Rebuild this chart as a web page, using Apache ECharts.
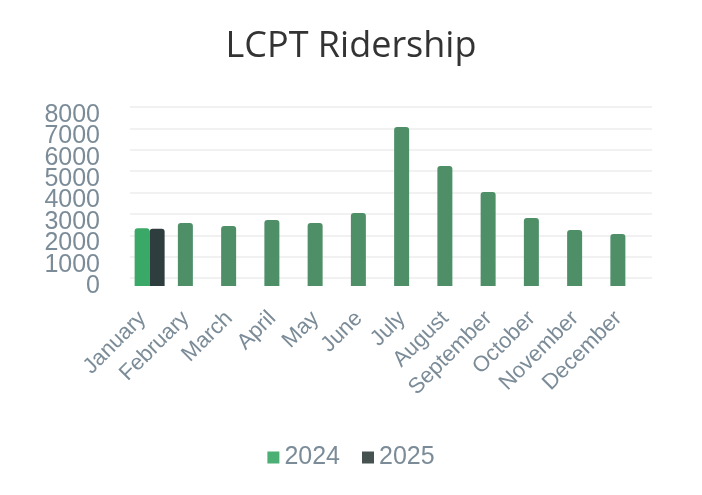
<!DOCTYPE html>
<html>
<head>
<meta charset="utf-8">
<script src="https://cdn.jsdelivr.net/npm/echarts@6/dist/echarts.min.js"></script>
<style>
html,body{margin:0;padding:0;background:#fff;}
#chart{width:702px;height:495px;}
</style>
</head>
<body>
<div id="chart"></div>
<script>
var months = ["January","February","March","April","May","June","July","August","September","October","November","December"];
var riders2024 = [2700, 2950, 2810, 3090, 2950, 3420, 7440, 5610, 4400, 3180, 2620, 2430];
var riders2025 = [2680, null, null, null, null, null, null, null, null, null, null, null];
var yTicks = [0, 1000, 2000, 3000, 4000, 5000, 6000, 7000, 8000];

var labelColor = '#7b8c98';
var font = '"Liberation Sans", Arial, sans-serif';
var yMin = yTicks[0];
var yMax = yTicks[yTicks.length - 1];
var yStep = yTicks[1] - yTicks[0];

var data2024 = riders2024.map(function (v, i) {
  return i === 0 ? { value: v, itemStyle: { color: '#3aa866' } } : { value: v, itemStyle: { color: '#4e8f68' } };
});

var yLabelStyle = {
  fontSize: 25, color: labelColor, fontFamily: font, margin: 28,
  formatter: function (v) { return String(v); }
};

var chart = echarts.init(document.getElementById('chart'), null, { renderer: 'canvas' });
chart.setOption({
  backgroundColor: '#ffffff',
  animation: false,
  title: {
    text: 'LCPT Ridership',
    left: 'center',
    top: 24,
    textStyle: { fontSize: 36, fontWeight: 'normal', color: '#333333', fontFamily: '"Open Sans", sans-serif' }
  },
  legend: {
    bottom: 20,
    left: 'center',
    itemWidth: 12,
    itemHeight: 12,
    itemGap: 22,
    icon: 'rect',
    textStyle: { fontSize: 25, color: labelColor, fontFamily: font },
    data: [
      { name: '2024', itemStyle: { color: '#4caf74' } },
      { name: '2025', itemStyle: { color: '#465250' } }
    ]
  },
  grid: [
    { left: 128, right: 55, top: 115, bottom: 209, containLabel: false },
    { left: 130, right: 50, top: 107, bottom: 217, containLabel: false }
  ],
  xAxis: [
    {
      type: 'category',
      gridIndex: 0,
      data: months,
      axisLine: { show: false },
      axisTick: { show: false },
      axisLabel: {
        rotate: 45,
        interval: 0,
        margin: 22,
        padding: [0, 10, 0, 0],
        fontSize: 22,
        color: labelColor,
        fontFamily: font
      }
    },
    {
      type: 'category',
      gridIndex: 1,
      data: months,
      show: false
    }
  ],
  yAxis: [
    {
      type: 'value',
      gridIndex: 0,
      position: 'left',
      min: yMin,
      max: yMax,
      interval: yStep,
      axisLine: { show: false },
      axisTick: { show: false },
      splitLine: { show: false },
      axisLabel: Object.assign({ showMinLabel: false, showMaxLabel: false }, yLabelStyle)
    },
    {
      type: 'value',
      gridIndex: 1,
      min: yMin,
      max: yMax,
      interval: yStep,
      axisLine: { show: false },
      axisTick: { show: false },
      axisLabel: { show: false },
      splitLine: { show: true, lineStyle: { color: '#ececec', width: 1.5 } }
    },
    {
      type: 'value',
      gridIndex: 0,
      position: 'left',
      offset: 0,
      min: yMin,
      max: yMax,
      interval: yMax - yMin,
      axisLine: { show: false },
      axisTick: { show: false },
      splitLine: { show: false },
      axisLabel: yLabelStyle
    }
  ],
  series: [
    {
      name: '2024',
      type: 'bar',
      xAxisIndex: 0,
      yAxisIndex: 0,
      data: data2024,
      barWidth: 15,
      barGap: '0%',
      itemStyle: { color: '#4caf74', borderRadius: [3, 3, 0, 0] }
    },
    {
      name: '2025',
      type: 'bar',
      xAxisIndex: 0,
      yAxisIndex: 0,
      data: riders2025,
      barWidth: 15,
      barGap: '0%',
      itemStyle: { color: '#2e3d3e', borderRadius: [3, 3, 0, 0] }
    }
  ]
});
</script>
</body>
</html>
